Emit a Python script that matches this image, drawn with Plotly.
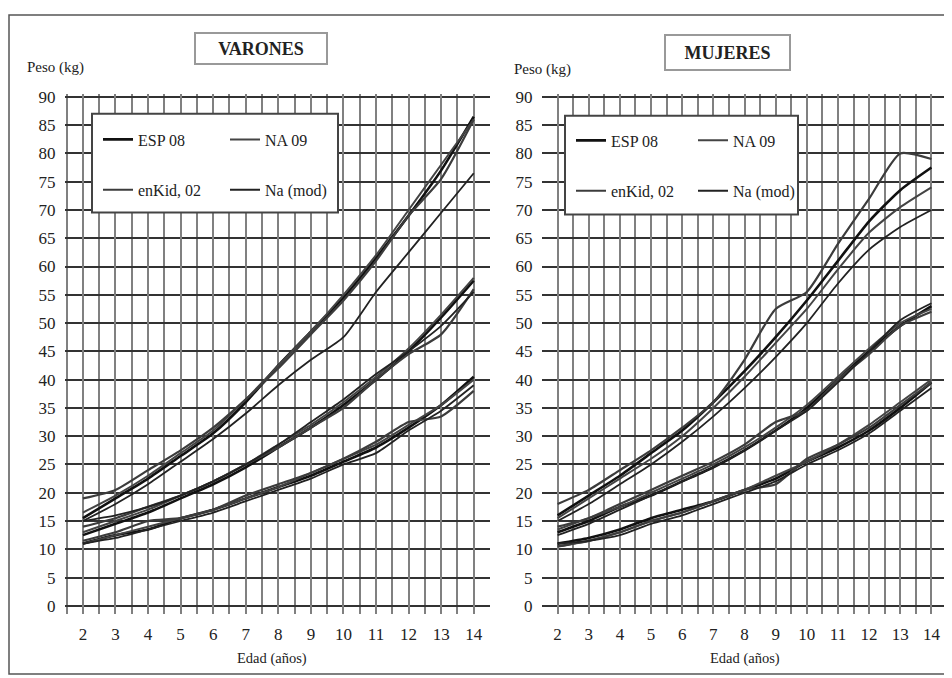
import plotly.graph_objects as go

AGES = [2, 3, 4, 5, 6, 7, 8, 9, 10, 11, 12, 13, 14]
SERIES = ["ESP 08", "NA 09", "enKid, 02", "Na (mod)"]
Y_TICKS = list(range(0, 95, 5))

# ---------------- VARONES (boys) ----------------
V_ESP_P3 = [11, 12.5, 13.5, 15.5, 17, 19, 21, 23, 25.5, 28, 31.5, 35.5, 40.5]
V_ESP_P50 = [12.5, 14.5, 16.5, 19, 21.5, 24.5, 28, 31.5, 35.5, 40, 45, 51, 57.5]
V_ESP_P97 = [15.5, 19, 22.5, 26.5, 30.5, 36, 42.5, 48.5, 54.5, 61.5, 69, 77, 86.5]

V_NA_P3 = [11, 12.5, 14, 15.5, 17, 19, 21, 23.5, 26, 28.5, 32, 35.5, 40]
V_NA_P50 = [13, 15, 17, 19.5, 22, 25, 28.5, 32, 36, 40.5, 45.5, 51.5, 58]
V_NA_P97 = [16.5, 19.5, 23, 27, 31, 36.5, 42.5, 48.5, 55, 62, 70, 78, 86]

V_ENK_P3 = [11.5, 13, 15, 15.5, 17, 19.5, 21.5, 23.5, 26, 29, 32.5, 33.5, 38]
V_ENK_P50 = [14, 15.5, 17.5, 19.5, 22, 25, 28, 31.5, 35, 40, 44.5, 48, 56]
V_ENK_P97 = [19, 20.5, 24, 27.5, 31.5, 36.5, 42, 48, 54, 61, 69, 75.5, 86]

V_NAM_P3 = [11, 12, 13.5, 15, 16.5, 18.5, 20.5, 22.5, 25, 27, 31, 34.5, 39]
V_NAM_P50 = [15, 16, 17.5, 19.5, 22, 25, 28.5, 32.5, 36.5, 41, 45, 49.5, 55.5]
V_NAM_P97 = [15, 18, 21.5, 25.5, 29.5, 34, 39, 43.5, 47.5, 55.5, 62.5, 69.5, 76.5]

# ---------------- MUJERES (girls) ----------------
M_ESP_P3 = [11, 12, 13.5, 15.5, 17, 18.5, 20.5, 22.5, 25.5, 28, 31, 35, 39.5]
M_ESP_P50 = [13, 15, 17.5, 19.5, 22, 24.5, 27.5, 31, 35, 40, 45, 49.5, 53]
M_ESP_P97 = [16, 19.5, 23, 27, 31, 36, 41.5, 47.5, 54, 61, 68, 73.5, 77.5]

M_NA_P3 = [10.5, 11.5, 13, 15, 16.5, 18.5, 20.5, 23, 25.5, 28.5, 32, 36, 40]
M_NA_P50 = [13.5, 15.5, 17.5, 20, 22.5, 25, 28, 31.5, 35.5, 40.5, 45.5, 50, 52.5]
M_NA_P97 = [15.5, 19, 22.5, 26, 30, 35, 40.5, 46.5, 52.5, 59.5, 66, 70.5, 74]

M_ENK_P3 = [10.5, 11.5, 13, 15, 16.5, 18.5, 20.5, 21.5, 26, 28.5, 31.5, 35.5, 39.5]
M_ENK_P50 = [14, 15.5, 18, 20.5, 23, 25.5, 28.5, 32.5, 34.5, 40, 44.5, 49.5, 52]
M_ENK_P97 = [18, 20.5, 24, 27.5, 31.5, 36, 43.5, 52.5, 55.5, 64, 72, 80, 79]

M_NAM_P3 = [11, 11.5, 12.5, 14.5, 16, 18, 20, 22, 25, 27.5, 30.5, 34.5, 38.5]
M_NAM_P50 = [12.5, 14.5, 17, 19.5, 22, 24.5, 27.5, 31, 34.5, 39.5, 45, 50.5, 53.5]
M_NAM_P97 = [15, 18, 21.5, 25, 29, 33.5, 38.5, 44, 50, 57, 63, 67, 70]

PANELS = [
    ("x", "y", [(V_ESP_P3, V_ESP_P50, V_ESP_P97), (V_NA_P3, V_NA_P50, V_NA_P97),
                (V_ENK_P3, V_ENK_P50, V_ENK_P97), (V_NAM_P3, V_NAM_P50, V_NAM_P97)],
     ["legend", "legend", "legend2", "legend2"]),
    ("x2", "y2", [(M_ESP_P3, M_ESP_P50, M_ESP_P97), (M_NA_P3, M_NA_P50, M_NA_P97),
                  (M_ENK_P3, M_ENK_P50, M_ENK_P97), (M_NAM_P3, M_NAM_P50, M_NAM_P97)],
     ["legend3", "legend3", "legend4", "legend4"]),
]

STYLES = [
    dict(color="#111111", width=2.6),
    dict(color="#444444", width=2.0),
    dict(color="#3c3c3c", width=2.2),
    dict(color="#222222", width=1.8),
]

SERIF = "Liberation Serif"

fig = go.Figure()
for xa, ya, groups, legs in PANELS:
    for si, (name, pcts, leg) in enumerate(zip(SERIES, groups, legs)):
        for pi, vals in enumerate(pcts):
            fig.add_trace(go.Scatter(
                x=AGES, y=vals, mode="lines", name=name,
                line=dict(shape="spline", smoothing=0.6, **STYLES[si]),
                xaxis=xa, yaxis=ya, legend=leg,
                legendgroup=xa + name, showlegend=(pi == 0),
                hoverinfo="skip",
            ))

# page body has an 8px margin: build figure in window coordinates minus that offset
OX, OY = 8, 8
W, H = 944, 670
def px(x):
    return (x - OX) / W
def py(y):
    return 1 - (y - OY) / H

axis_common = dict(
    showline=False, zeroline=False,
    tickfont=dict(family=SERIF, size=17, color="#222"),
    ticks="outside", ticklen=5, tickcolor="rgba(0,0,0,0)",
)
xgrid = dict(showgrid=True, gridcolor="#808080", gridwidth=2)
ygrid = dict(showgrid=True, gridcolor="#333333", gridwidth=2)
HALF_TICKS = [a - 0.5 for a in AGES] + [14.5]

YTOP, YBOT = 89, 615
fig.update_layout(
    width=W, height=H,
    margin=dict(l=0, r=0, t=0, b=0),
    paper_bgcolor="white", plot_bgcolor="white",
    font=dict(family=SERIF, color="#222"),
    showlegend=True,
    xaxis=dict(domain=[px(65), px(490)], range=[1.45, 14.5], anchor="y",
               tickmode="array", tickvals=HALF_TICKS, ticktext=[""] * len(HALF_TICKS),
               **xgrid, **axis_common),
    yaxis=dict(domain=[py(YBOT), py(YTOP)], range=[-1.4, 90.5], anchor="x",
               tickvals=Y_TICKS, **ygrid, **axis_common),
    xaxis2=dict(domain=[px(542), px(947)], range=[1.5, 14.5], anchor="y2",
                tickmode="array", tickvals=HALF_TICKS, ticktext=[""] * len(HALF_TICKS),
                **xgrid, **axis_common),
    yaxis2=dict(domain=[py(YBOT), py(YTOP)], range=[-1.4, 90.5], anchor="x2",
                tickvals=Y_TICKS, **ygrid, **axis_common),
    xaxis3=dict(domain=[px(65), px(490)], range=[1.45, 14.5], anchor="y", overlaying="x",
                tickvals=AGES, **xgrid, **axis_common),
    xaxis4=dict(domain=[px(542), px(947)], range=[1.5, 14.5], anchor="y2", overlaying="x2",
                tickvals=AGES, **xgrid, **axis_common),
)
fig.add_trace(go.Scatter(x=[None], y=[None], xaxis="x3", yaxis="y", showlegend=False))
fig.add_trace(go.Scatter(x=[None], y=[None], xaxis="x4", yaxis="y2", showlegend=False))

leg_common = dict(orientation="h", bgcolor="rgba(0,0,0,0)", borderwidth=0,
                  font=dict(family=SERIF, size=16, color="#222"),
                  entrywidthmode="pixels",
                  xanchor="left", yanchor="middle", itemwidth=30)
fig.update_layout(
    legend=dict(x=px(98), y=py(135), entrywidth=82, **leg_common),
    legend2=dict(x=px(98), y=py(186), entrywidth=82, **leg_common),
    legend3=dict(x=px(571), y=py(136), entrywidth=77, **leg_common),
    legend4=dict(x=px(571), y=py(187), entrywidth=77, **leg_common),
)

fig.update_layout(shapes=[
    dict(type="rect", xref="paper", yref="paper", x0=px(9), x1=px(950), y0=py(676), y1=py(9),
         line=dict(color="#555", width=1.5), fillcolor="rgba(0,0,0,0)", layer="below"),
    dict(type="rect", xref="paper", yref="paper", x0=px(92), x1=px(338), y0=py(209), y1=py(109),
         line=dict(color="#444", width=2), fillcolor="white", layer="above"),
    dict(type="rect", xref="paper", yref="paper", x0=px(565), x1=px(798), y0=py(211), y1=py(111),
         line=dict(color="#444", width=2), fillcolor="white", layer="above"),
])

annotations = []
for t, x, y, w, h in [("<b>VARONES</b>", 261, 43, 124, 23), ("<b>MUJERES</b>", 727, 47, 117, 27)]:
    annotations.append(dict(text=t, x=px(x), y=py(y), xref="paper", yref="paper",
                            showarrow=False, xanchor="center", yanchor="middle",
                            width=w, height=h,
                            font=dict(family=SERIF, size=18, color="#222"),
                            bordercolor="#999", borderwidth=2, borderpad=3, bgcolor="white"))
for t, x, y, s in [("Peso (kg)", 55, 62, 15), ("Peso (kg)", 542, 64, 15),
                   ("Edad (años)", 272, 660, 14.5), ("Edad (años)", 745, 660, 14.5)]:
    annotations.append(dict(text=t, x=px(x), y=py(y), xref="paper", yref="paper",
                            showarrow=False, xanchor="center", yanchor="middle",
                            font=dict(family=SERIF, size=s, color="#222")))
fig.update_layout(annotations=annotations)

fig.write_html("out.html")
